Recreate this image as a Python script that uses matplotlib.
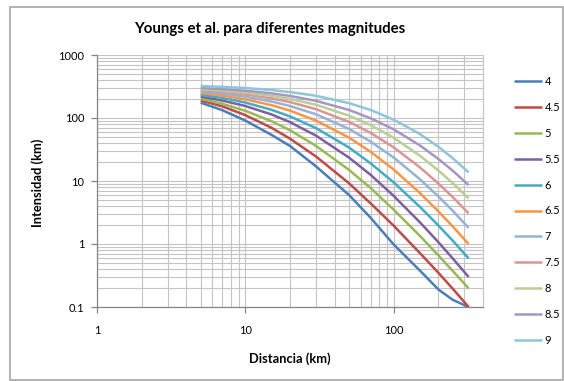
import matplotlib
matplotlib.use("Agg")
import matplotlib.pyplot as plt
from matplotlib.patches import Rectangle
from matplotlib.ticker import FixedLocator, LogLocator, NullFormatter, FuncFormatter

plt.rcParams["font.family"] = ["Lato", "DejaVu Sans"]

# distancia (km) y la intensidad de cada magnitud
distancia = [5, 7, 10, 15, 20, 30, 50, 70, 100, 150, 200, 250, 320]

m_4 = [175, 133, 91, 54, 36, 17, 6.0, 2.6, 0.98, 0.38, 0.19, 0.13, 0.10]
m_4_5 = [190, 153, 111, 70, 47, 24.4, 9.2, 4.4, 1.95, 0.72, 0.35, 0.195, 0.10]
m_5 = [202, 168, 130, 89, 64, 36, 15, 7.7, 3.5, 1.35, 0.66, 0.374, 0.198]
m_5_5 = [218, 189, 155, 114, 86, 52.4, 23.5, 12.5, 5.8, 2.22, 1.07, 0.59, 0.30]
m_6 = [234, 208, 176, 135, 106, 69, 34, 19, 9.5, 3.9, 1.97, 1.13, 0.59]
m_6_5 = [249, 227, 198, 160, 131, 91, 48.8, 29, 15.2, 6.47, 3.3, 1.9, 1.0]
m_7 = [262, 243, 218, 183, 155, 114.5, 67, 42, 23.6, 10.7, 5.7, 3.37, 1.8]
m_7_5 = [275, 259, 237, 205, 179, 138, 86.7, 58, 34.2, 16.5, 9.15, 5.55, 3.07]
m_8 = [286, 272, 253, 225, 201, 162, 109, 77, 48.5, 25.3, 14.7, 9.25, 5.3]
m_8_5 = [299, 287, 271, 246, 224, 187, 134, 99, 66, 36.8, 22.4, 14.6, 8.6]
m_9 = [322, 312, 299, 278, 258, 225, 172, 134, 94, 55.8, 35, 23, 13.7]

magnitudes = ["4", "4.5", "5", "5.5", "6", "6.5", "7", "7.5", "8", "8.5", "9"]
series = [m_4, m_4_5, m_5, m_5_5, m_6, m_6_5, m_7, m_7_5, m_8, m_8_5, m_9]
colores = ["#4A7EBB", "#BE4B48", "#98B954", "#7D60A0", "#46AAC5", "#F79646",
           "#95B3D7", "#D99694", "#B9CF93", "#A597C3", "#8DC6D9"]

W, H = 564, 381
fig = plt.figure(figsize=(W / 100, H / 100), dpi=100)
fig.patch.set_facecolor("white")

# marco del area del grafico
fig.add_artist(Rectangle((10 / W, 1 / H), (W - 11.5) / W, (H - 7.5) / H,
                         transform=fig.transFigure, fill=False,
                         edgecolor="#A6A6A6", linewidth=1.2))

ax = fig.add_axes([97 / W, 1 - 307 / H, (483 - 97) / W, (307 - 55) / H])

for valores, etiqueta, color in zip(series, magnitudes, colores):
    ax.plot(distancia, valores, color=color, linewidth=1.8, label=etiqueta,
            solid_capstyle="butt")

ax.set_xscale("log")
ax.set_yscale("log")
ax.set_xlim(1, 400)
ax.set_ylim(0.1, 1000)

ax.xaxis.set_major_locator(FixedLocator([1, 10, 100]))
ax.yaxis.set_major_locator(FixedLocator([0.1, 1, 10, 100, 1000]))
ax.xaxis.set_minor_locator(LogLocator(base=10, subs=range(2, 10), numticks=20))
ax.yaxis.set_minor_locator(LogLocator(base=10, subs=range(2, 10), numticks=20))
ax.xaxis.set_minor_formatter(NullFormatter())
ax.yaxis.set_minor_formatter(NullFormatter())
fmt = FuncFormatter(lambda v, pos: "{:g}".format(v))
ax.xaxis.set_major_formatter(fmt)
ax.yaxis.set_major_formatter(fmt)

ax.grid(True, which="both", color="#C4C4C4", linewidth=0.8)
ax.set_axisbelow(True)

ax.spines["top"].set_visible(False)
ax.spines["right"].set_color("#C4C4C4")
ax.spines["right"].set_linewidth(0.8)
for lado in ["left", "bottom"]:
    ax.spines[lado].set_color("#868686")
    ax.spines[lado].set_linewidth(0.9)

ax.tick_params(which="major", direction="out", length=4, width=0.9,
               color="#868686", labelsize=8, labelcolor="black")
ax.tick_params(axis="x", which="major", pad=9)
ax.tick_params(axis="y", which="major", pad=5)
ax.tick_params(which="minor", length=0)

ax.set_title("Youngs et al. para diferentes magnitudes", fontsize=10.8,
             fontweight="bold", x=(270 - 97) / 386, y=(307 - 33) / 252, pad=0)
ax.set_xlabel("Distancia (km)", fontsize=9.3, fontweight="bold")
ax.set_ylabel("Intensidad (km)", fontsize=9.3, fontweight="bold")
ax.xaxis.set_label_coords((290 - 97) / 386, (307 - 352) / 252)
ax.yaxis.set_label_coords((44 - 97) / 386, (307 - 183) / 252)

ax.legend(loc="upper left", bbox_to_anchor=(514 / W, 1 - 76 / H),
          bbox_transform=fig.transFigure, frameon=False, borderpad=0,
          borderaxespad=0, handlelength=2.5, handletextpad=0.25,
          labelspacing=1.34, fontsize=8)

fig.savefig("out.png", dpi=100)
